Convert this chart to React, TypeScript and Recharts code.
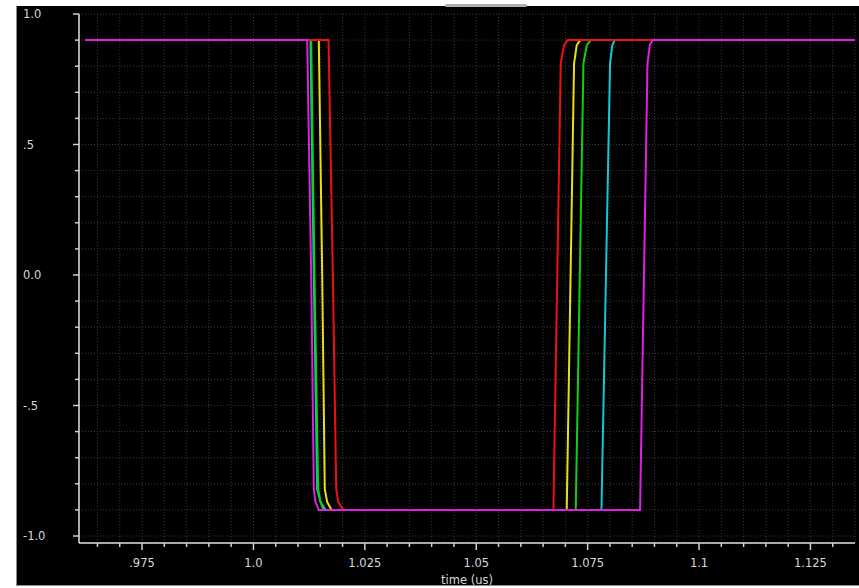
import { LineChart, Line, XAxis, YAxis, CartesianGrid, Label } from 'recharts';

// transient sweep, time in us, voltage in V
const magentaWave = [
  { t: 0.9622, v: 0.9 }, { t: 1.01206, v: 0.9 }, { t: 1.01296, v: 0 }, { t: 1.01355, v: -0.82 },
  { t: 1.01393, v: -0.87 }, { t: 1.01467, v: -0.9 }, { t: 1.08677, v: -0.9 }, { t: 1.08843, v: 0.81 },
  { t: 1.08895, v: 0.88 }, { t: 1.08956, v: 0.9 }, { t: 1.135, v: 0.9 },
];
const cyanWave = [
  { t: 0.9622, v: 0.9 }, { t: 1.0128, v: 0.9 }, { t: 1.01355, v: 0 }, { t: 1.0143, v: -0.82 },
  { t: 1.01505, v: -0.87 }, { t: 1.01617, v: -0.9 }, { t: 1.0781, v: -0.9 }, { t: 1.08003, v: 0.81 },
  { t: 1.08053, v: 0.88 }, { t: 1.08109, v: 0.9 }, { t: 1.135, v: 0.9 },
];
const greenWave = [
  { t: 0.9622, v: 0.9 }, { t: 1.01296, v: 0.9 }, { t: 1.0137, v: 0 }, { t: 1.01453, v: -0.82 },
  { t: 1.01505, v: -0.87 }, { t: 1.01572, v: -0.9 }, { t: 1.07233, v: -0.9 }, { t: 1.07406, v: 0.81 },
  { t: 1.0748, v: 0.88 }, { t: 1.0757, v: 0.9 }, { t: 1.135, v: 0.9 },
];
const yellowWave = [
  { t: 0.9622, v: 0.9 }, { t: 1.01467, v: 0.9 }, { t: 1.01543, v: 0 }, { t: 1.01601, v: -0.82 },
  { t: 1.01655, v: -0.87 }, { t: 1.01752, v: -0.9 }, { t: 1.07031, v: -0.9 }, { t: 1.07195, v: 0.81 },
  { t: 1.07255, v: 0.88 }, { t: 1.07332, v: 0.9 }, { t: 1.135, v: 0.9 },
];
const redWave = [
  { t: 0.9622, v: 0.9 }, { t: 1.01685, v: 0.9 }, { t: 1.01782, v: 0 }, { t: 1.01858, v: -0.82 },
  { t: 1.01903, v: -0.87 }, { t: 1.0202, v: -0.9 }, { t: 1.06732, v: -0.9 }, { t: 1.06896, v: 0.81 },
  { t: 1.0697, v: 0.88 }, { t: 1.07053, v: 0.9 }, { t: 1.135, v: 0.9 },
];

const xLabels = [
  { t: 0.975, label: '.975' }, { t: 1.0, label: '1.0' }, { t: 1.025, label: '1.025' },
  { t: 1.05, label: '1.05' }, { t: 1.075, label: '1.075' }, { t: 1.1, label: '1.1' },
  { t: 1.125, label: '1.125' },
];
const yLabels = [
  { v: 1, label: '1.0' }, { v: 0.5, label: '.5' }, { v: 0, label: '0.0' },
  { v: -0.5, label: '-.5' }, { v: -1, label: '-1.0' },
];

// minor ticks every 5 ns / 0.1 V
const xTicks: number[] = [];
for (let i = 193; i <= 226; i++) xTicks.push(+(i * 0.005).toFixed(3));
const yTicks: number[] = [];
for (let i = -10; i <= 10; i++) yTicks.push(+(i / 10).toFixed(1));

const series = [
  { name: 'cyan', data: cyanWave, color: '#10c8d8' },
  { name: 'green', data: greenWave, color: '#10d010' },
  { name: 'yellow', data: yellowWave, color: '#e8e010' },
  { name: 'red', data: redWave, color: '#f01010' },
  { name: 'magenta', data: magentaWave, color: '#e020e0' },
];

const FONT = '"DejaVu Sans", Verdana, sans-serif';
const TEXT = '#d8d8d8';

const XTick = ({ x, y, payload }: any) => {
  const major = xLabels.find(l => Math.abs(l.t - payload.value) < 1e-6);
  return (
    <g>
      <line x1={x} x2={x} y1={y} y2={y + (major ? 7 : 4)} stroke="#d0d0d0" strokeWidth={1.5} />
      {major && (
        <text x={x} y={y + 24} textAnchor="middle" fill={TEXT} fontSize={11.5} fontFamily={FONT}>
          {major.label}
        </text>
      )}
    </g>
  );
};

const YTick = ({ x, y, payload }: any) => {
  const major = yLabels.find(l => Math.abs(l.v - payload.value) < 1e-6);
  return (
    <g>
      <line x1={x - (major ? 6 : 4)} x2={x} y1={y} y2={y} stroke="#d0d0d0" strokeWidth={1.5} />
      {major && (
        <text x={x - 56} y={y + 4} textAnchor="start" fill={TEXT} fontSize={11.5} fontFamily={FONT}>
          {major.label}
        </text>
      )}
    </g>
  );
};

export default function App() {
  return (
    <div style={{ position: 'absolute', left: 0, top: 0, width: 859, height: 588, background: '#fff', overflow: 'hidden' }}>
      <div
        style={{
          position: 'absolute', left: 16, top: 6, width: 843, height: 579,
          background: '#000', borderLeft: '1px solid #8a8a8a', borderBottom: '1px solid #8a8a8a',
        }}
      />
      <div style={{ position: 'absolute', left: 445, top: 4, width: 82, height: 3, background: '#a8b0b8', borderRadius: 2 }} />
      <div style={{ position: 'absolute', left: 0, top: 0 }}>
        <LineChart width={859} height={588} margin={{ top: 14, right: 4, left: 0, bottom: 0 }}>
          <CartesianGrid stroke="#3a3a3a" strokeDasharray="1 2" />
          <XAxis
            dataKey="t"
            type="number"
            domain={[0.9622, 1.135]}
            allowDataOverflow
            ticks={xTicks}
            interval={0}
            padding={{ left: 6 }}
            height={45}
            tickSize={0}
            tickMargin={0}
            tickLine={false}
            axisLine={{ stroke: '#e0e0e0', strokeWidth: 1.5 }}
            tick={<XTick />}
          >
            <Label value="time (us)" position="insideBottom" offset={4} fill={TEXT} fontSize={11.5} fontFamily={FONT} />
          </XAxis>
          <YAxis
            dataKey="v"
            type="number"
            domain={[-1, 1]}
            allowDataOverflow
            ticks={yTicks}
            interval={0}
            padding={{ bottom: 7 }}
            width={79}
            tickSize={0}
            tickMargin={0}
            tickLine={false}
            axisLine={{ stroke: '#e0e0e0', strokeWidth: 1.5 }}
            tick={<YTick />}
          />
          {series.map(s => (
            <Line
              key={s.name}
              data={s.data}
              dataKey="v"
              type="linear"
              stroke={s.color}
              strokeWidth={2}
              dot={false}
              activeDot={false}
              isAnimationActive={false}
            />
          ))}
        </LineChart>
      </div>
    </div>
  );
}
